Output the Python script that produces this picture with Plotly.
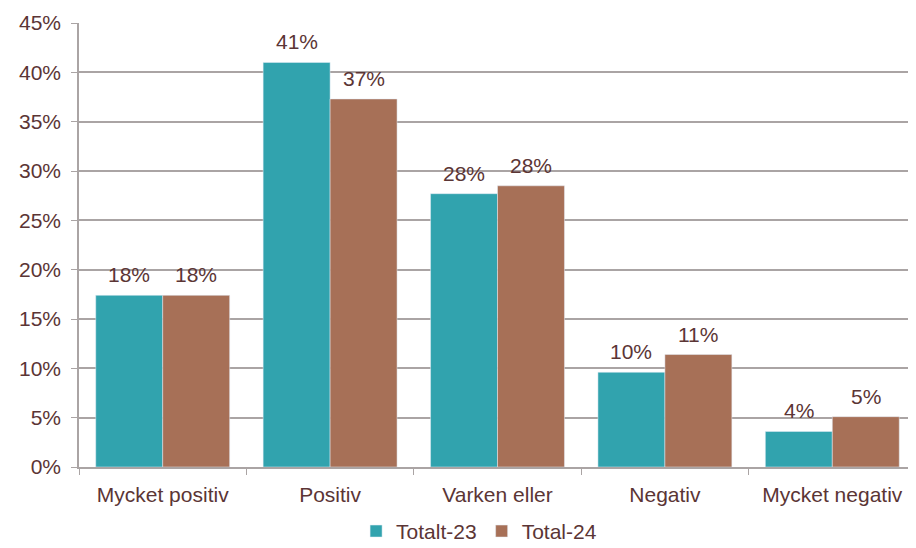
import plotly.graph_objects as go

categories = ["Mycket positiv", "Positiv", "Varken eller", "Negativ", "Mycket negativ"]
totalt_23 = [17.4, 41.0, 27.7, 9.6, 3.6]
total_24 = [17.4, 37.3, 28.5, 11.4, 5.1]
labels_23 = ["18%", "41%", "28%", "10%", "4%"]
labels_24 = ["18%", "37%", "28%", "11%", "5%"]
y_ticks = [0, 5, 10, 15, 20, 25, 30, 35, 40, 45]

text_color = "#5b3535"
grid_color = "#aaa4a4"
font_size = 21

fig = go.Figure()
fig.add_trace(go.Bar(x=categories, y=totalt_23, name="Totalt-23", marker_color="#31a3ae"))
fig.add_trace(go.Bar(x=categories, y=total_24, name="Total-24", marker_color="#a77057"))

# value labels above bars
for vals, labels, shift in [(totalt_23, labels_23, -33.5), (total_24, labels_24, 33.5)]:
    for cat, v, lab in zip(categories, vals, labels):
        fig.add_annotation(
            x=cat, y=v, text=lab, showarrow=False, xshift=shift, yshift=7,
            yanchor="bottom", font=dict(size=font_size, color=text_color),
        )

# page has an 8px body margin, so the figure is sized to fill the rest of the window
fig.update_layout(
    width=908, height=540,
    barmode="group", bargap=0.2, bargroupgap=0,
    plot_bgcolor="white", paper_bgcolor="white",
    font=dict(family="Liberation Sans, Arial, sans-serif", size=font_size, color=text_color),
    margin=dict(l=71, r=0, t=15, b=81, autoexpand=False),
    legend=dict(orientation="h", x=0.478, xanchor="center", y=-0.145, yanchor="middle",
                font=dict(size=font_size, color=text_color), itemwidth=30),
)
fig.update_xaxes(
    automargin=False,
    showline=True, linecolor=grid_color, linewidth=1.5,
    ticks="outside", tickson="boundaries", ticklen=6, tickcolor=grid_color,
    ticklabelstandoff=8,
    tickfont=dict(size=font_size, color=text_color),
)
fig.update_yaxes(
    automargin=False,
    range=[0, 45], tickvals=y_ticks, ticktext=[f"{v}%" for v in y_ticks],
    showgrid=True, gridcolor=grid_color, gridwidth=1.5,
    showline=True, linecolor=grid_color, linewidth=1.5,
    ticks="outside", ticklen=6, tickcolor=grid_color, ticklabelstandoff=6,
    tickfont=dict(size=font_size, color=text_color), zeroline=False,
)

fig.write_html("out.html")
